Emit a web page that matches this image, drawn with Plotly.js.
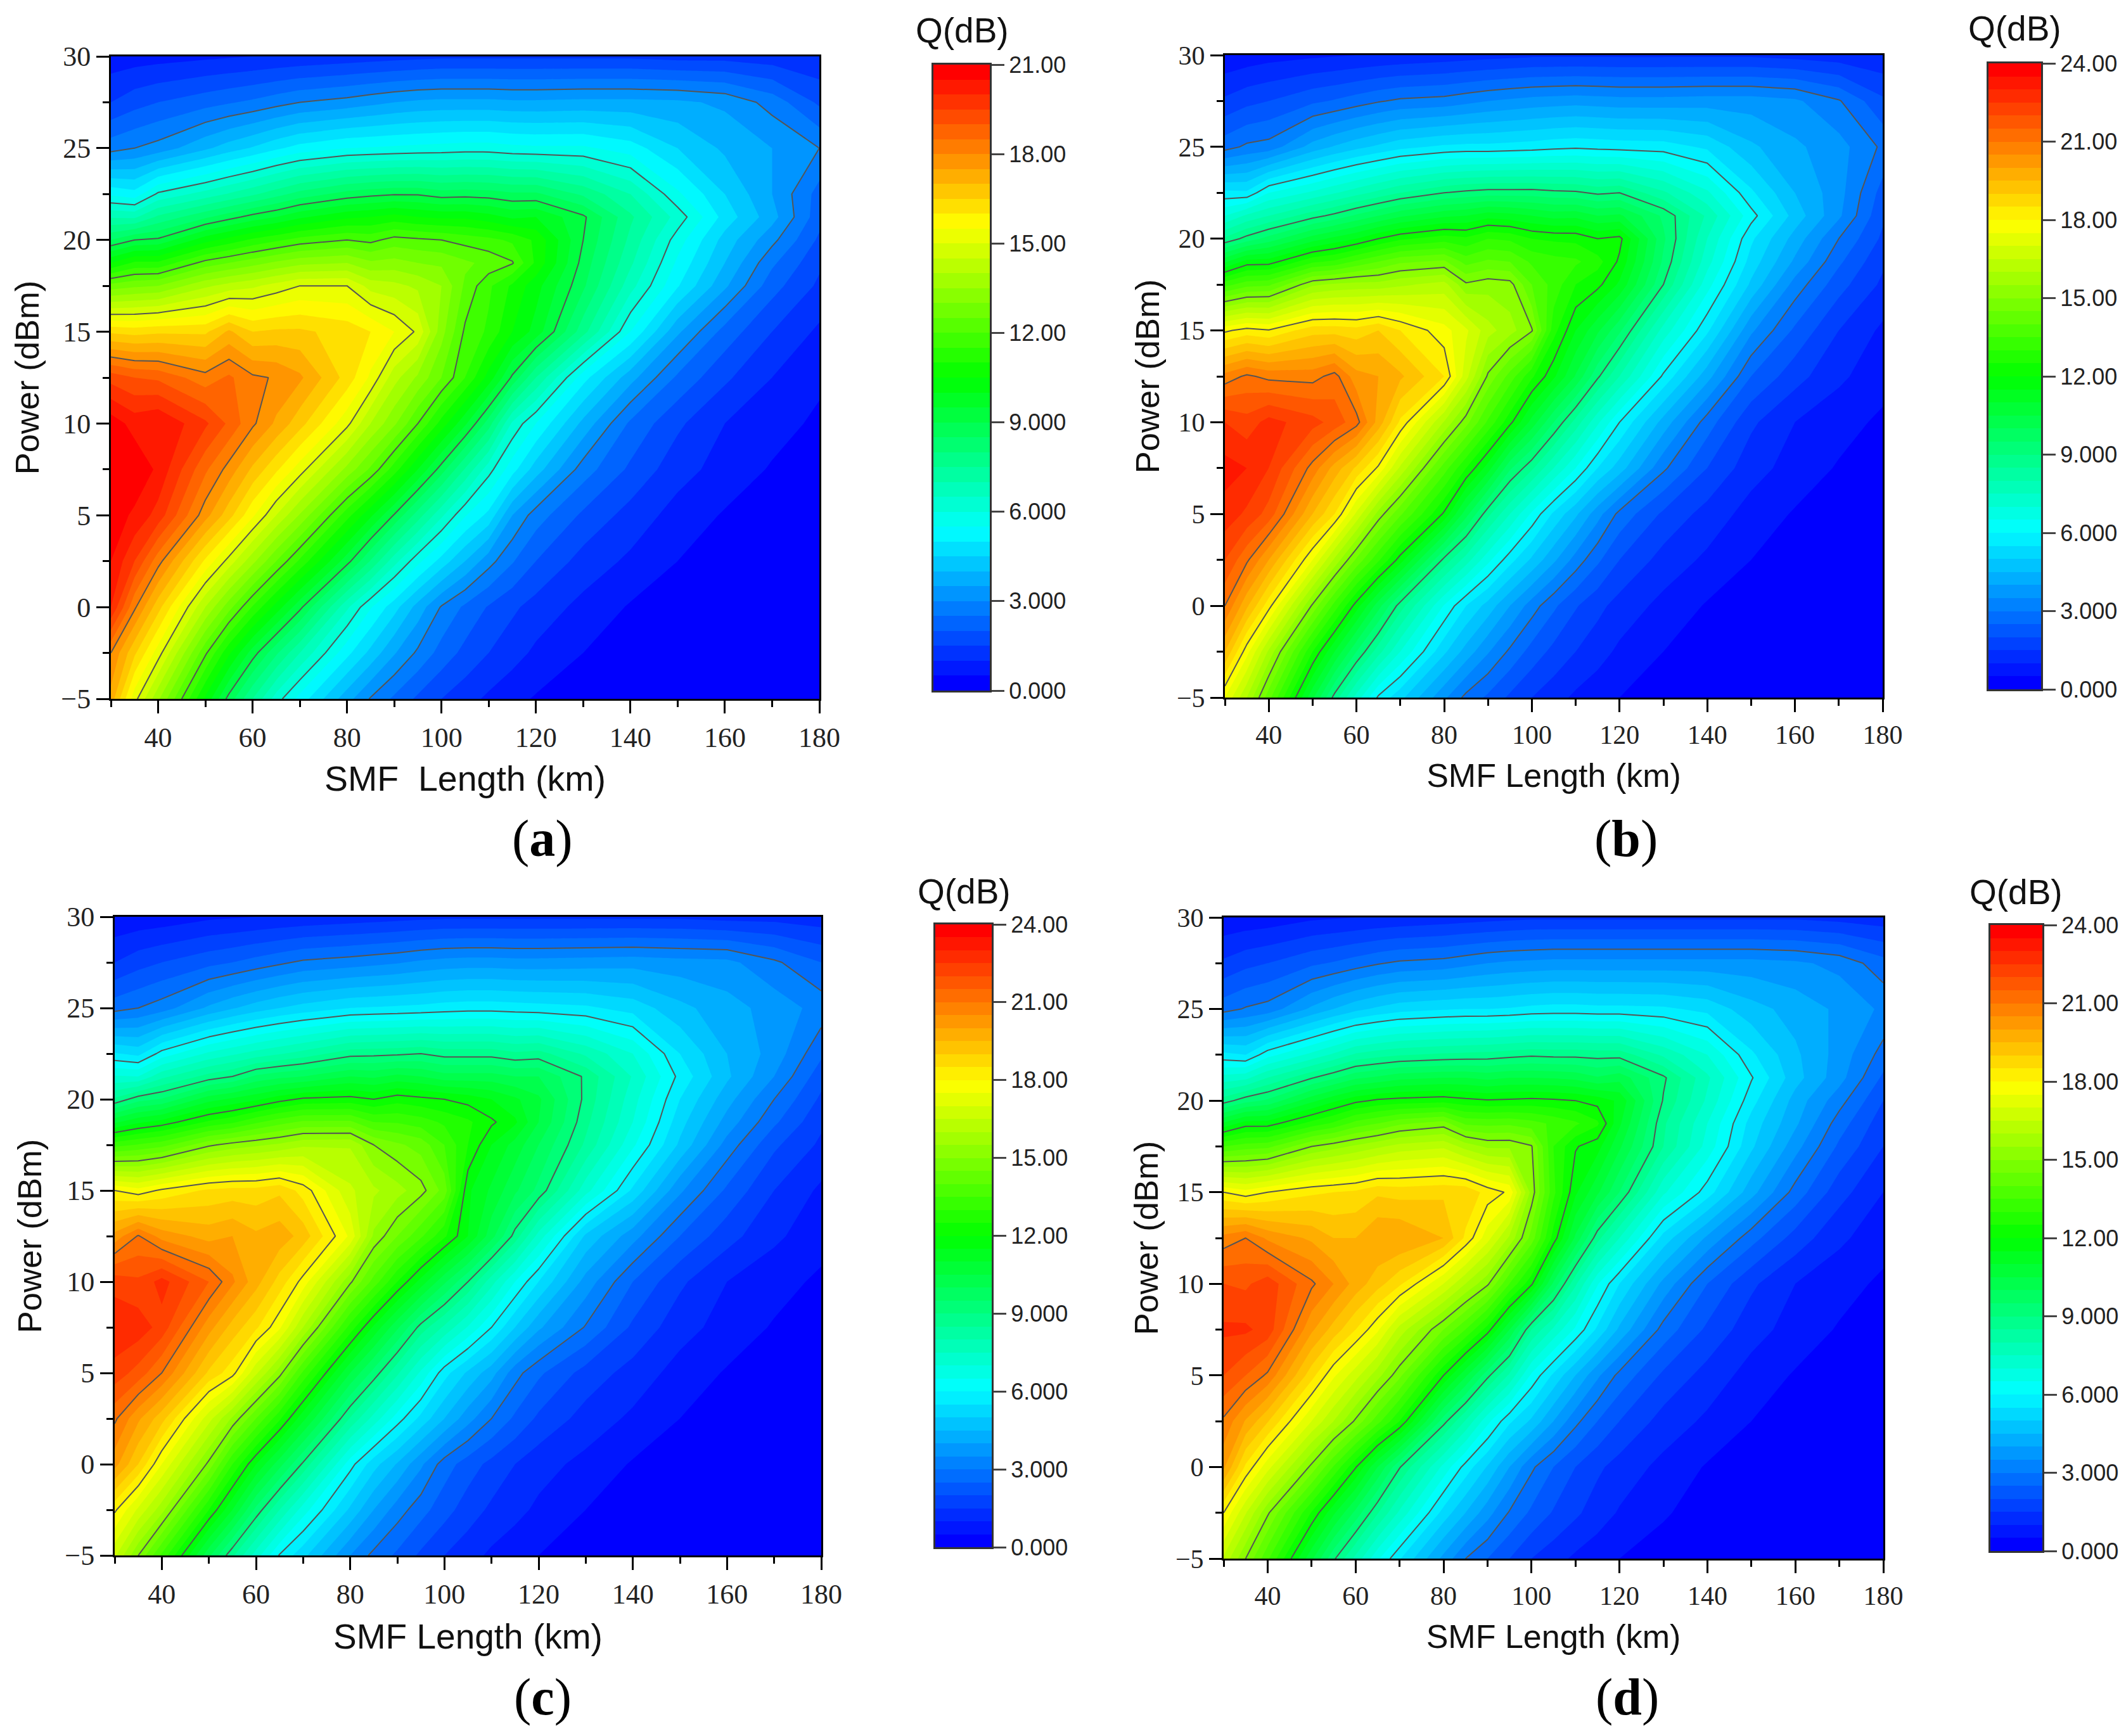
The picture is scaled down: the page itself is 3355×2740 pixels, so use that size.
<!DOCTYPE html>
<html><head><meta charset="utf-8">
<script src="https://cdn.plot.ly/plotly-3.0.1.min.js"></script>
<style>html,body{margin:0;padding:0;background:#fff}#c{width:3355px;height:2740px}</style></head>
<body><div id="c"></div>
<script>
const smfLengthKm = [30,35,40,50,55,60,65,70,80,85,90,95,100,105,110,115,120,130,140,150,160,170,180];
const powerDbm = [-5,-2.5,0,2.5,5,7.5,10,12.5,15,17.5,18.75,20,21.25,22.5,25,27.5,30];

const qA = [
[17.3,15.2,13.6,10.4,8.8,7.5,6.25,5.3,3.7,2.95,2.4,1.9,1.5,1.2,0.9,0.65,0.45,0.3,0.2,0.1,0.1,0.1,0.1],
[18,16.6,15.25,12.1,10.6,9.25,8.1,7,5.15,4.35,3.55,2.9,2.3,1.85,1.5,1.2,0.9,0.5,0.3,0.2,0.1,0.1,0.1],
[20,18.1,16.7,14,12.7,11.45,10.3,9.15,6.6,5.55,4.7,3.8,2.95,2.4,1.95,1.6,1.3,0.85,0.45,0.3,0.15,0.1,0.1],
[20.5,19.5,18.2,15.9,14.8,13.66,12.5,11.4,9.2,7.95,6.7,5.65,4.8,4,3.2,2.55,2,1.3,0.9,0.5,0.3,0.15,0.1],
[20.8,20.4,19.8,17.7,16.7,15.6,14.5,13.45,11.2,10.1,8.95,7.75,6.6,5.55,4.85,3.5,2.75,1.9,1.3,0.8,0.45,0.3,0.15],
[21,20.9,20.4,18.6,17.8,16.9,16.1,15.25,13.35,12.4,11.25,10,8.75,7.45,6.2,5.2,4.25,2.75,1.9,1.2,0.8,0.45,0.25],
[20.8,20.3,20.5,19.6,18.9,18.1,17.4,16.7,15.15,14,13.1,12,10.8,9.6,8.25,6.4,5.5,3.85,2.4,1.6,1,0.7,0.4],
[19.3,19,18.9,18.2,18.6,18.1,17.95,17.6,16.3,15.4,14.2,13.4,12.5,11.5,10.3,8.9,7.5,5.2,3.7,2.4,1.6,1,0.6],
[16.4,16.3,16.4,16.4,17.1,16.5,16.6,16.6,16.3,16,15.5,14.9,13.2,11.9,11.4,10.5,9.8,7.7,5.5,3.6,2.3,1.5,0.9],
[12.7,12.9,13,13.9,14.2,14.4,14.7,15,15,14.3,14.15,13.9,13.5,12.4,11.6,10.9,10.2,8.6,6.7,5.05,3.6,2.2,1.4],
[10.5,11.1,11.1,12.2,12.5,12.8,13.1,13.35,13.5,13.1,13.2,13,12.9,12.6,12.35,12.05,10.9,8.8,7.1,5.4,4,2.6,1.6],
[8.5,9,9.1,10.3,10.7,11.1,11.4,11.7,12,11.85,12.2,12.1,12,11.8,11.65,11.4,10.9,9,7.37,5.75,4.3,3.15,1.9],
[6.95,6.9,7.6,8.4,8.8,9.2,9.5,9.9,10.4,10.5,10.7,10.5,10.4,10.4,10.2,9.9,10,9.1,7.6,6.3,4.8,3.7,2.2],
[5.4,5.2,6.1,6.7,7.05,7.4,7.8,8.2,8.7,8.85,8.95,8.95,8.75,8.8,8.75,8.6,8.6,7.9,7,5.6,4.5,3.5,2.3],
[2.8,3,3.2,3.9,4.25,4.55,4.9,5.2,5.5,5.55,5.6,5.65,5.7,5.75,5.75,5.65,5.6,5.6,5.25,4.5,3.9,3.5,3],
[1.5,1.8,2,2.3,2.45,2.6,2.8,3,3.2,3.35,3.5,3.6,3.65,3.65,3.65,3.6,3.6,3.65,3.65,3.6,3.4,2.8,1.9],
[0.7,0.75,0.8,0.9,0.95,1,1.05,1.1,1.2,1.25,1.3,1.35,1.4,1.4,1.4,1.4,1.4,1.4,1.4,1.3,1.3,1.2,1.1]];

const qB = [
[17.5,16,14.2,10.6,8.8,7.3,5.9,5.15,3.6,2.85,2.4,1.9,1.5,1.2,0.9,0.7,0.5,0.3,0.2,0.1,0.1,0.1,0.1],
[19.5,17.7,15.9,12.5,11,9.5,8.2,7,5.1,4.3,3.55,2.9,2.3,1.85,1.5,1.2,0.9,0.5,0.3,0.2,0.1,0.1,0.1],
[21,19.6,18.2,14.9,13.3,11.75,10.2,8.75,6.45,5.5,4.8,4,3.25,2.6,2.05,1.65,1.3,0.85,0.45,0.3,0.15,0.1,0.1],
[22,21.1,20,17.5,15.9,14.4,13.1,11.75,8.85,7.75,6.65,5.7,4.9,4.1,3.3,2.6,2,1.3,0.9,0.5,0.3,0.15,0.1],
[22.8,22.4,21.8,19.5,18.5,16.9,15.3,14.1,11.9,10.2,8.65,7.5,6.4,5.4,4.6,3.7,2.85,1.9,1.3,0.8,0.45,0.3,0.15],
[23.2,23,22.5,20.8,19.8,18.9,17.9,16.4,13.75,12.5,11.25,9.6,8.6,7.5,6.5,5.5,4.75,3.1,2,1.2,0.8,0.45,0.25],
[22.5,22.2,22.7,22.2,21.8,21.2,19.8,18.4,15.95,14.7,13.4,12.15,10.8,9.5,8.3,7.1,6,4.3,2.75,1.6,1,0.7,0.4],
[20.7,21.1,20.85,20.8,21.2,20.2,20,19.6,18.5,16.7,14.9,13.8,12.6,11.6,10.45,9.1,8,5.9,4.2,2.5,1.7,1.1,0.7],
[17.9,18.2,18.05,18.8,18.8,18.7,19,18.5,17.7,17.1,16.2,15.7,15.05,12.7,11.5,10.6,9.6,7.3,5.6,3.6,2.4,1.5,0.9],
[13.3,13.8,13.9,15.4,15.6,15.7,15.7,15.9,16.2,15.1,15.3,15.2,14,13.3,12.5,12.15,11.4,9,6.7,4.9,3.3,2.2,1.4],
[10.9,11.7,11.75,12.9,13.1,13.6,14,14.4,14.6,13.8,14.1,14,13.4,13.2,13.1,12.7,11.9,9.4,7.2,5.3,3.9,2.6,1.6],
[8.6,9.2,9.7,10.75,11.15,11.5,12,12.4,12.75,12.6,13,12.9,12.5,12.4,12.35,12,12.15,9.6,7.5,5.6,4.3,3,1.9],
[7,7.6,8,8.8,9.15,9.6,10,10.4,10.9,11,11.3,11.2,11,10.8,10.85,10.5,10.6,9.4,7.9,6.2,4.8,3.6,2.1],
[5.65,5.6,6.5,7.1,7.45,7.8,8.15,8.5,9,9.15,9.25,9.25,9.25,9.15,9.1,8.9,9,8.1,7.1,5.6,4.5,3.7,2.3],
[2.8,3.1,3.2,4.2,4.55,4.85,5.1,5.35,5.6,5.65,5.65,5.7,5.75,5.85,5.9,5.85,5.8,5.75,5.4,4.6,4.1,3.7,2.9],
[1.6,1.85,2,2.4,2.55,2.75,2.95,3.1,3.2,3.35,3.5,3.6,3.7,3.75,3.8,3.75,3.7,3.7,3.75,3.75,3.6,3.05,2.1],
[0.6,0.7,0.8,0.9,0.95,1,1.05,1.1,1.2,1.25,1.3,1.35,1.4,1.4,1.4,1.4,1.4,1.4,1.4,1.4,1.3,1.2,1.1]];

const qC = [
[16.6,15,13.4,10.1,8.6,7.25,5.95,5.15,3.5,2.85,2.4,1.9,1.5,1.2,0.9,0.7,0.5,0.3,0.2,0.1,0.1,0.1,0.1],
[18.1,16.9,15.7,12.5,11,9.35,8,6.75,4.9,4,3.25,2.7,2.2,1.75,1.4,1.15,0.9,0.5,0.3,0.2,0.1,0.1,0.1],
[20.2,19,17.5,14.85,13,11.5,10.2,8.9,6.2,5.2,4.45,3.6,2.75,2.25,1.85,1.5,1.2,0.85,0.45,0.3,0.15,0.1,0.1],
[21.1,20.1,19.2,16.7,15.4,14,12.6,11.15,8.45,7.3,6.25,5.35,4.5,3.7,3,2.4,1.9,1.3,0.9,0.5,0.3,0.15,0.1],
[22.3,21.8,21,18.9,18.2,16.6,15.2,13.4,10.5,9.3,8.1,6.9,5.7,4.9,4.2,3.2,2.6,1.8,1.3,0.8,0.45,0.3,0.15],
[22.9,22.8,22.3,20.2,19.3,18.6,17.6,16,12.8,11.4,10.1,8.8,7.9,6.95,6,5,4.1,2.95,1.9,1.2,0.8,0.45,0.25],
[22.3,22.1,22.7,21.5,20.6,19.7,18.8,17.8,15.1,13.8,12.5,11.3,10.1,9,7.7,6.5,5.5,3.8,2.5,1.6,1,0.7,0.4],
[20.2,21.05,20.3,19.8,20,19.6,19.8,19.3,17.4,15.4,14.5,13.6,12.6,11.5,10.2,8.8,7.3,4.9,3.7,2.5,1.7,1.1,0.7],
[18,17.7,18.1,18.6,18.7,18.7,18.9,18.3,16.6,16.1,15.7,15.2,14.3,11.6,10.9,10.1,9.35,7.2,5.4,3.6,2.4,1.5,0.9],
[13.3,13.55,13.8,14.9,15.2,15.4,15.6,15.9,15.95,15,14.6,14.3,13.5,12.5,11.5,10.8,10,8.4,6.6,4.9,3.3,2.1,1.4],
[10.9,11.4,11.7,12.6,12.9,13.4,13.8,14.1,14.1,13.5,13.45,13.25,12.9,12.6,12.1,11.6,10.5,8.65,7,5.2,3.8,2.6,1.6],
[8.6,9.3,9.55,10.8,11.1,11.4,11.8,12.1,12.2,12,12.3,12.15,12,11.8,11.5,11.1,10.6,8.85,7.2,5.5,4.2,3,1.9],
[7.05,7,7.85,8.7,9,9.6,9.85,10,10.5,10.4,10.65,10.5,10.2,10.2,10.2,10,10,8.9,7.45,5.85,4.6,3.5,2.2],
[5.55,5.35,6.2,7.1,7.4,7.7,7.95,8.2,8.8,8.85,8.9,9,8.8,8.8,8.8,8.6,8.7,7.9,7,5.5,4.5,3.8,2.6],
[2.8,3,3.25,4.1,4.45,4.75,5,5.2,5.5,5.55,5.6,5.65,5.75,5.8,5.8,5.75,5.7,5.6,5.3,4.65,4.2,3.8,3.3],
[1.5,1.8,2,2.35,2.5,2.7,2.9,3.1,3.25,3.35,3.45,3.6,3.7,3.75,3.75,3.7,3.7,3.75,3.8,3.7,3.65,3.1,2.5],
[0.6,0.65,0.7,0.9,0.95,1,1.05,1.1,1.2,1.25,1.3,1.35,1.4,1.4,1.4,1.4,1.4,1.4,1.4,1.4,1.3,1.3,1.2]];

const qD = [
[16.4,15,13.6,10.6,9.1,7.85,6.6,5.55,3.85,3,2.5,2,1.5,1.2,0.9,0.7,0.5,0.3,0.2,0.1,0.1,0.1,0.1],
[18,16.55,15.1,12.45,11.1,9.85,8.55,7.4,5.3,4.5,3.7,2.95,2.4,1.95,1.6,1.25,0.95,0.55,0.3,0.2,0.1,0.1,0.1],
[20.1,18.4,17.2,14.85,13.45,12.05,10.5,9.05,6.85,5.8,4.95,4,3.1,2.5,2,1.6,1.3,0.85,0.45,0.3,0.15,0.1,0.1],
[20.9,19.95,19.05,17,16,14.9,13.7,12.5,9.2,7.95,6.65,5.6,4.9,4,3.15,2.5,2,1.3,0.9,0.5,0.3,0.15,0.1],
[22,21.5,20.9,18.7,17.6,16.7,15.7,14.65,12,10.6,9.15,7.9,6.4,5.4,4.5,3.6,2.85,1.9,1.3,0.8,0.45,0.3,0.15],
[22.6,22.6,22.3,20.1,19.3,18.5,17.6,16.3,14.5,13.5,12.25,10.5,8.5,7.4,6.4,5.4,4.4,2.8,1.9,1.2,0.8,0.45,0.25],
[22,21.9,22.3,21.1,20.5,19.8,19.2,18.6,17,16,15.1,13.5,12.1,9.9,8.1,6.55,5.5,3.85,2.5,1.6,1,0.7,0.4],
[20.7,21,20.4,19.9,19.5,19.5,20,20,19.5,18.4,17.2,15.9,14.3,12.3,10.4,8.7,7.5,5.3,3.9,2.7,1.8,1.1,0.7],
[18,17.7,18,18.4,18.5,18.6,18.9,18.8,18.9,18.9,18.3,17.9,15.3,13.15,11.6,10.6,9.5,7.1,5.75,4.2,2.8,1.7,1],
[13.5,13.75,13.85,15,15.3,15.6,15.9,16.2,16.4,15.8,15.4,15.4,15.05,13,12.05,11.7,10.6,8.5,6.8,5.1,3.7,2.4,1.5],
[11.1,11.75,11.75,12.7,13.1,13.7,14,14.4,14.75,13.9,13.85,13.9,13.7,13.4,13.1,12.6,11.1,8.6,7,5.3,4.1,2.75,1.7],
[8.75,9.3,9.6,10.85,11.4,11.85,12.1,12.2,12.3,12.15,12.05,12.1,12.15,12.1,12,11.8,11.4,8.95,7.4,5.7,4.3,3.2,2],
[7.2,7.35,8,8.95,9.4,9.9,10.1,10.35,10.5,10.5,10.35,10.5,10.5,10.45,10.35,10.05,10.3,9.1,7.6,6.05,4.7,3.7,2.4],
[5.65,5.5,6.3,7.15,7.6,8.1,8.3,8.45,8.6,8.65,8.7,8.8,8.9,8.85,8.85,8.8,8.8,7.9,7,5.6,4.6,3.8,2.8],
[2.8,3.05,3.2,4.1,4.5,4.85,5.1,5.3,5.45,5.5,5.5,5.55,5.65,5.7,5.7,5.65,5.65,5.6,5.35,4.7,4.3,3.9,3.4],
[1.6,1.85,2,2.4,2.55,2.75,2.95,3.1,3.2,3.35,3.5,3.6,3.65,3.7,3.7,3.7,3.7,3.7,3.7,3.7,3.6,3.35,2.7],
[0.6,0.65,0.7,0.9,0.95,1,1.05,1.1,1.2,1.25,1.3,1.35,1.4,1.4,1.4,1.4,1.4,1.4,1.4,1.4,1.4,1.3,1.2]];

const scaleTicks = [0,3,6,9,12,15,18,21,24];
const scaleTickText = ['0.000','3.000','6.000','9.000','12.00','15.00','18.00','21.00','24.00'];
const xMajor = [40,60,80,100,120,140,160,180];
const xMinor = [30,50,70,90,110,130,150,170];
const yMajor = [-5,0,5,10,15,20,25,30];
const yMinor = [-2.5,2.5,7.5,12.5,17.5,22.5,27.5];
const rainbow = [[0,'#0000ff'],[0.25,'#00ffff'],[0.5,'#00ff00'],[0.75,'#ffff00'],[1,'#ff0000']];

const W = 3355, H = 2740;
const SANS = '"Liberation Sans", Arial, sans-serif', SERIF = '"Liberation Serif", "Times New Roman", serif';
const panels = [
 {z:qA,qmax:21,plot:[175,1293,89,1103],bar:[1473,1562,102,1090],xt:'SMF\u00a0 Length (km)',xs:55.5,xo:22,yo:18,tf:44,q:[1518,48],tag:'a',tagPos:[856,1323]},
 {z:qB,qmax:24,plot:[1933,2971,87,1101],bar:[3138,3221,100,1088],xt:'SMF Length (km)',xs:52,xo:24,yo:11,tf:42,q:[3179,45],tag:'b',tagPos:[2566,1323]},
 {z:qC,qmax:24,plot:[181,1296,1447,2455],bar:[1476,1565,1459,2442],xt:'SMF Length (km)',xs:55,xo:24,yo:20,tf:44,q:[1521,1407],tag:'c',tagPos:[856,2678]},
 {z:qD,qmax:24,plot:[1931,2972,1448,2460],bar:[3141,3223,1460,2448],xt:'SMF Length (km)',xs:52,xo:24,yo:11,tf:42,q:[3181,1408],tag:'d',tagPos:[2568,2678]}
];

const traces = [], layout = {
  width:W,height:H,margin:{l:0,r:0,t:0,b:0,pad:0},paper_bgcolor:'#fff',plot_bgcolor:'#fff',showlegend:false,annotations:[]
};
const domX = p => [p[0]/W,p[1]/W], domY = p => [1-p[3]/H,1-p[2]/H];
const bandsOf = m => { const out=[]; for(let v=0.25;v<m;v+=0.5) out.push(v); return out; };

panels.forEach((p,i)=>{
  const n = i+1, xa = n===1?'x':'x'+n, ya = n===1?'y':'y'+n;
  const m = n+4, xb='x'+m, yb='y'+m;
  traces.push({type:'contour',x:smfLengthKm,y:powerDbm,z:p.z,xaxis:xa,yaxis:ya,colorscale:rainbow,showscale:false,
    autocontour:false,contours:{start:0.5,end:p.qmax-0.5,size:0.5,coloring:'fill',showlines:false},line:{width:0,smoothing:0},hoverinfo:'skip'});
  traces.push({type:'contour',x:smfLengthKm,y:powerDbm,z:p.z,xaxis:xa,yaxis:ya,showscale:false,
    autocontour:false,contours:{start:3,end:p.qmax-3,size:3,coloring:'none',showlines:true},line:{color:'#555555',width:2,smoothing:0},hoverinfo:'skip'});
  const bands = bandsOf(p.qmax);
  traces.push({type:'heatmap',x:[0],y:bands,z:bands.map(v=>[v]),xaxis:xb,yaxis:yb,colorscale:rainbow,showscale:false,
    zmin:0.25,zmax:p.qmax-0.25,hoverinfo:'skip'});

  const font = {family:SERIF,size:p.tf,color:'#222'};
  layout[n===1?'xaxis':'xaxis'+n] = {domain:domX(p.plot),anchor:ya,range:[30,180],tickmode:'array',tickvals:xMajor,
    ticks:'outside',ticklen:20,tickwidth:3,tickcolor:'#000',showline:true,linewidth:3,linecolor:'#000',mirror:true,showgrid:false,zeroline:false,
    tickfont:font,minor:{tickmode:'array',tickvals:xMinor,ticks:'outside',ticklen:10,tickwidth:3,tickcolor:'#000',showgrid:false},
    title:{text:p.xt,font:{family:SANS,size:p.xs,color:'#111'},standoff:p.xo}};
  layout[n===1?'yaxis':'yaxis'+n] = {domain:domY(p.plot),anchor:xa,range:[-5,30],tickmode:'array',tickvals:yMajor,ticktext:yMajor.map(v=>String(v).replace('-','\u2212')),
    ticks:'outside',ticklen:20,tickwidth:3,tickcolor:'#000',showline:true,linewidth:3,linecolor:'#000',mirror:true,showgrid:false,zeroline:false,
    tickfont:font,minor:{tickmode:'array',tickvals:yMinor,ticks:'outside',ticklen:10,tickwidth:3,tickcolor:'#000',showgrid:false},
    title:{text:'Power (dBm)',font:{family:SANS,size:52.5,color:'#111'},standoff:p.yo}};
  layout['xaxis'+m] = {domain:domX(p.bar),anchor:yb,range:[-0.5,0.5],showticklabels:false,ticks:'',showgrid:false,zeroline:false,
    showline:true,linewidth:3,linecolor:'#333',mirror:true};
  const tv = scaleTicks.filter(v=>v<=p.qmax);
  layout['yaxis'+m] = {domain:domY(p.bar),anchor:xb,side:'right',range:[0,p.qmax],tickmode:'array',tickvals:tv,ticktext:tv.map(v=>scaleTickText[scaleTicks.indexOf(v)]),
    ticks:'outside',ticklen:20,tickwidth:3,tickcolor:'#444',showline:true,linewidth:3,linecolor:'#333',mirror:true,showgrid:false,zeroline:false,
    tickfont:{family:SANS,size:36,color:'#222'}};
  layout.annotations.push({xref:'paper',yref:'paper',x:p.q[0]/W,y:1-p.q[1]/H,text:'Q(dB)',showarrow:false,xanchor:'center',yanchor:'middle',font:{family:SANS,size:55,color:'#111'}});
  layout.annotations.push({xref:'paper',yref:'paper',x:p.tagPos[0]/W,y:1-p.tagPos[1]/H,text:'(<b>'+p.tag+'</b>)',showarrow:false,xanchor:'center',yanchor:'middle',font:{family:SERIF,size:82,color:'#000'}});
});
Plotly.newPlot('c',traces,layout,{staticPlot:true,displayModeBar:false});
</script></body></html>
